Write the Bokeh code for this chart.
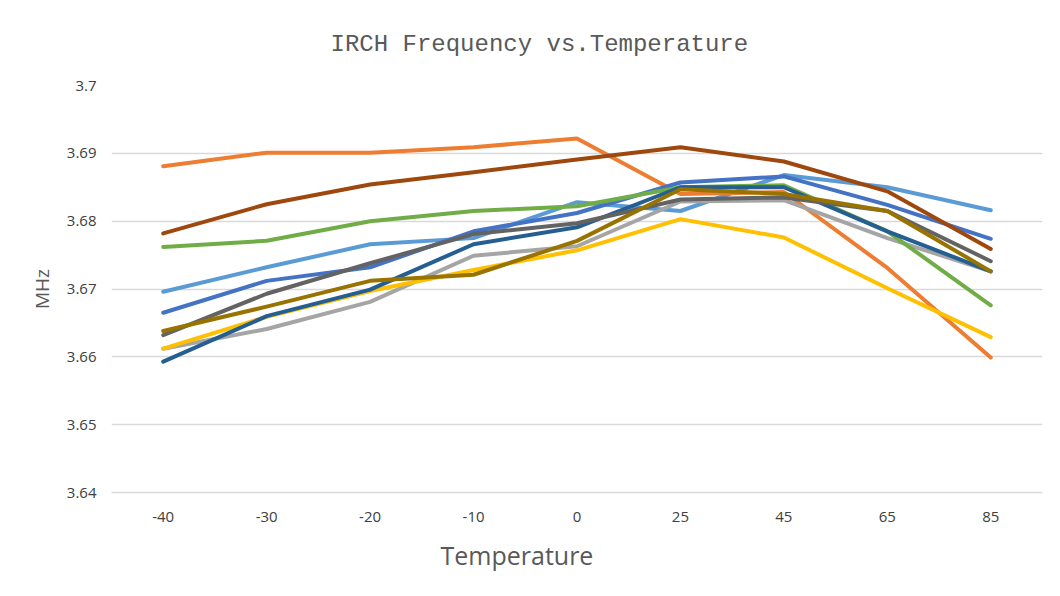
from bokeh.plotting import figure
from bokeh.models import Range1d, FixedTicker, Title
from bokeh.embed import file_html
from bokeh.resources import INLINE

temps = ["-40", "-30", "-20", "-10", "0", "25", "45", "65", "85"]

s1_lightblue = [3.6696, 3.6732, 3.6766, 3.6775, 3.6828, 3.6815, 3.6868, 3.6850, 3.6816]
s2_orange    = [3.6881, 3.6901, 3.6901, 3.6909, 3.6922, 3.6840, 3.6843, 3.6731, 3.6599]
s3_gray      = [3.6612, 3.6641, 3.6681, 3.6749, 3.6763, 3.6829, 3.6831, 3.6775, 3.6726]
s4_yellow    = [3.6612, 3.6659, 3.6697, 3.6728, 3.6757, 3.6803, 3.6776, 3.6701, 3.6629]
s5_blue      = [3.6665, 3.6712, 3.6732, 3.6785, 3.6812, 3.6857, 3.6866, 3.6824, 3.6774]
s6_green     = [3.6762, 3.6771, 3.6800, 3.6815, 3.6822, 3.6850, 3.6853, 3.6785, 3.6676]
s7_darkblue  = [3.6593, 3.6660, 3.6699, 3.6766, 3.6791, 3.6850, 3.6850, 3.6785, 3.6726]
s8_brown     = [3.6782, 3.6825, 3.6854, 3.6872, 3.6891, 3.6909, 3.6888, 3.6844, 3.6759]
s9_darkgray  = [3.6632, 3.6693, 3.6738, 3.6781, 3.6797, 3.6832, 3.6835, 3.6815, 3.6741]
s10_gold     = [3.6638, 3.6674, 3.6712, 3.6721, 3.6771, 3.6847, 3.6840, 3.6815, 3.6726]

series = [s1_lightblue, s2_orange, s3_gray, s4_yellow, s5_blue,
          s6_green, s7_darkblue, s8_brown, s9_darkgray, s10_gold]
colors = ["#5B9BD5", "#ED7D31", "#A5A5A5", "#FFC000", "#4472C4",
          "#70AD47", "#255E91", "#9E480E", "#636363", "#997300"]

yticks = [3.64, 3.65, 3.66, 3.67, 3.68, 3.69, 3.70]

p = figure(width=1052, height=588, x_range=temps, y_range=Range1d(3.64, 3.70),
           output_backend="svg", toolbar_location=None,
           min_border_left=111, min_border_right=10,
           min_border_top=84, min_border_bottom=96)

p.title.text = "IRCH Frequency vs.Temperature"
p.title.text_font = "Liberation Mono"
p.title.text_font_size = "24px"
p.title.text_font_style = "normal"
p.title.text_color = "#595959"
p.title.align = "left"
p.title.offset = 219
p.title.standoff = 56

for ys, c in zip(series, colors):
    p.line(temps, ys, line_color=c, line_width=4, line_join="round", line_cap="round")

p.outline_line_color = None
p.xgrid.grid_line_color = None
p.ygrid.grid_line_color = "#D9D9D9"
p.ygrid.grid_line_width = 1.5
p.yaxis.ticker = FixedTicker(ticks=yticks)
p.yaxis.major_label_overrides = {3.7: "3.7", 3.69: "3.69", 3.68: "3.68", 3.67: "3.67",
                                 3.66: "3.66", 3.65: "3.65", 3.64: "3.64"}

for ax in (p.xaxis[0], p.yaxis[0]):
    ax.major_tick_line_color = None
    ax.minor_tick_line_color = None
    ax.major_label_text_font = "Open Sans"
    ax.major_label_text_font_size = "15px"
    ax.major_label_text_color = "#404040"
    ax.axis_label_text_font = "Open Sans"
    ax.axis_label_text_font_style = "normal"
    ax.axis_label_text_color = "#595959"

p.yaxis.axis_line_color = None
p.xaxis.axis_line_color = "#D9D9D9"
p.xaxis.axis_line_width = 1.5
p.yaxis.axis_label = "MHz"
p.yaxis.axis_label_text_font_size = "19px"
p.yaxis.major_label_standoff = 9
p.yaxis.axis_label_standoff = 9
p.xaxis.major_label_standoff = 13

xlabel = Title(text="Temperature", align="left", offset=329, standoff=22,
               text_font="Open Sans", text_font_size="25px", text_font_style="normal",
               text_color="#595959")
p.add_layout(xlabel, "below")

open("out.html", "w").write(file_html(p, INLINE))
